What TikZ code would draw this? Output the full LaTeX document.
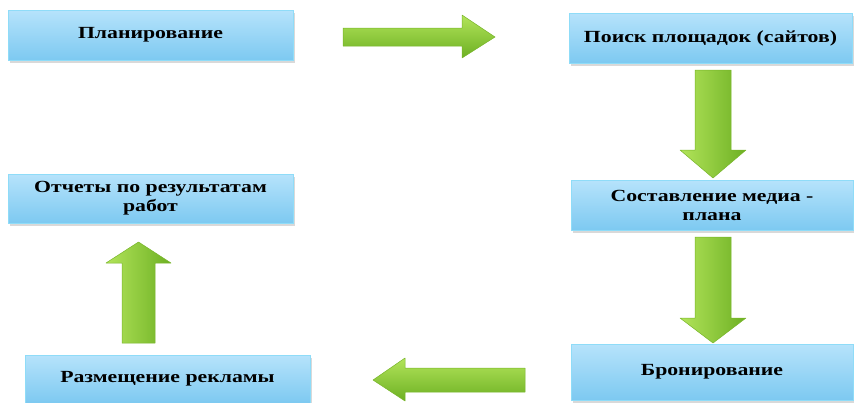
\documentclass[tikz,border=0pt]{standalone}
\usepackage{fontspec}
\setmainfont{Liberation Serif}
\newfontfamily\widefont[FakeStretch=1.28]{Liberation Serif}
\usetikzlibrary{shadows}
\definecolor{boxtop}{HTML}{B6E3FB}
\definecolor{boxbot}{HTML}{7DC9F1}
\definecolor{boxline}{HTML}{8FDCF8}
\definecolor{grlight}{HTML}{B2E45A}
\definecolor{grdark}{HTML}{6DB023}
\definecolor{grline}{HTML}{78B52A}
\tikzset{
  stepbox/.style={draw=boxline, line width=0.8pt, top color=boxtop, bottom color=boxbot,
    drop shadow={shadow xshift=2pt, shadow yshift=-3pt, opacity=0.3},
    align=center, font=\widefont\bfseries\fontsize{17}{19}\selectfont, inner sep=2pt},
  blockhor/.style={draw=grline, line width=0.5pt, top color=grlight, bottom color=grdark, line join=round},
  blockver/.style={draw=grline, line width=0.5pt, left color=grlight, right color=grdark, line join=round}
}
\begin{document}
\begin{tikzpicture}[x=1pt,y=-1pt]
\useasboundingbox (0,0) rectangle (854,402);
\node[stepbox, minimum width=285pt, minimum height=50pt] (plan) at (150.5,35) {Планирование};
\node[stepbox, minimum width=283pt, minimum height=50pt] (poisk) at (710.5,38) {Поиск площадок (сайтов)};
\node[stepbox, minimum width=282pt, minimum height=50pt] (media) at (712,205) {Составление медиа -\\плана};
\node[stepbox, minimum width=282pt, minimum height=56pt] (bron) at (712,372) {Бронирование};
\node[stepbox, minimum width=285pt, minimum height=48pt] (razm) at (167.5,379) {Размещение рекламы};
\node[stepbox, minimum width=285pt, minimum height=49pt] (otch) at (150.5,198.5) {Отчеты по результатам\\работ};
% block arrows
\path[blockhor] (343,28) -- (462,28) -- (462,15) -- (495,37) -- (462,58) -- (462,46) -- (343,46) -- cycle;
\path[blockver] (695,70) -- (731,70) -- (731,150) -- (746,150) -- (713,178) -- (680,150) -- (695,150) -- cycle;
\path[blockver] (695,237) -- (731,237) -- (731,318) -- (746,318) -- (713,343) -- (680,318) -- (695,318) -- cycle;
\path[blockver] (122,343) -- (155,343) -- (155,263) -- (171,263) -- (138.5,242) -- (106,263) -- (122,263) -- cycle;
\path[blockhor] (525,368) -- (405,368) -- (405,358) -- (373,380) -- (405,401) -- (405,392) -- (525,392) -- cycle;
\end{tikzpicture}
\end{document}
